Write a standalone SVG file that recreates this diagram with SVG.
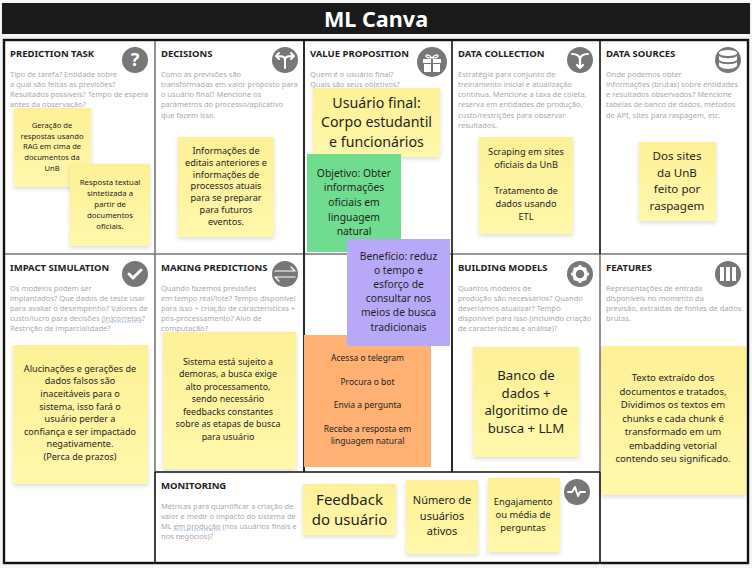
<svg xmlns="http://www.w3.org/2000/svg" width="752" height="568" viewBox="0 0 752 568">
<style>
text{font-family:"Noto Sans","Open Sans","DejaVu Sans",sans-serif}
.h{font-size:9.5px;font-weight:700;fill:#222}
.d{font-size:7.5px;fill:#aaa}
.s{fill:#1f1f1f;text-anchor:middle}
.i{fill:#777}
.g{fill:none;stroke:#fff;stroke-linecap:round;stroke-linejoin:round}
.w{fill:#fff}
.yl{fill:url(#y);filter:url(#sh)}
.u{fill:none;stroke:#6f9fd8;stroke-width:.8;stroke-dasharray:1.5 1}
.l1{stroke:#777;stroke-width:1.6}
.l2{stroke:#111;stroke-width:1.6}
</style>
<defs>
<linearGradient id="y" x1="0" y1="0" x2="0" y2="1"><stop offset="0" stop-color="#fdf196"/><stop offset="1" stop-color="#fff7ab"/></linearGradient>
<filter id="sh" x="-10%" y="-10%" width="120%" height="125%"><feDropShadow dx="0" dy="2" stdDeviation="2" flood-color="#000" flood-opacity=".14"/></filter>
</defs>
<rect width="752" height="568" fill="#f6f6f6"/>
<rect x="2" y="3" width="748" height="31" fill="#1a1a1a"/>
<text x="376" y="27" text-anchor="middle" font-size="21.600" font-weight="700" fill="#fff">ML Canva</text>
<rect x="4" y="40" width="744" height="523" fill="#fff"/>
<g id="connectors">
<path class="l1" d="M4 254H748M155 40V472M304 40V472M452 254V472M600 254V472"/>
<path class="l2" d="M155 472V563M304 40V254M452 40V254M600 40V254M600 472V563M452 254V472M304 254V472M155 472H600"/>
<rect x="4" y="40" width="744" height="523" fill="none" stroke="#111" stroke-width="2.400"/>
</g>
<g id="prediction-task">
<text class="h" x="10" y="57">PREDICTION TASK</text>
<circle class="i" cx="135" cy="60" r="13"/><text x="135" y="66" font-size="18" font-weight="700" fill="#fff" text-anchor="middle">?</text>
<text class="d"><tspan x="10" y="77">Tipo de tarefa? Entidade sobre</tspan><tspan x="10" y="87">a qual são feitas as previsões?</tspan><tspan x="10" y="97">Resultados possíveis? Tempo de espera</tspan><tspan x="10" y="107">antes da observação?</tspan></text>
<rect class="yl" x="14" y="108" width="77" height="79"/>
<text class="s" font-size="7.600"><tspan x="52" y="128">Geração de</tspan><tspan x="52" y="139">respostas usando</tspan><tspan x="52" y="149">RAG em cima de</tspan><tspan x="52" y="160">documentos da</tspan><tspan x="52" y="171">UnB</tspan></text>
<rect class="yl" x="70" y="164" width="80" height="82"/>
<text class="s" font-size="7.800"><tspan x="110" y="185">Resposta textual</tspan><tspan x="110" y="196">sintetizada a</tspan><tspan x="110" y="207">partir de</tspan><tspan x="110" y="218">documentos</tspan><tspan x="110" y="229">oficiais.</tspan></text>
</g>
<g id="decisions">
<text class="h" x="161" y="57">DECISIONS</text>
<circle class="i" cx="285" cy="60" r="13"/><path class="g" stroke-width="2" d="M285 68V60M285 60C285 56 281 56 277 56M285 60C285 56 289 56 293 56M279 53l-3 3 3 3M291 53l3 3-3 3"/>
<text class="d"><tspan x="161" y="77">Como as previsões são</tspan><tspan x="161" y="87">transformadas em valor proposto para</tspan><tspan x="161" y="97">o usuário final? Mencione os</tspan><tspan x="161" y="107">parâmetros do processo/aplicativo</tspan><tspan x="161" y="118">que fazem isso.</tspan></text>
<rect class="yl" x="178" y="137" width="96" height="100"/>
<text class="s" font-size="9.100"><tspan x="226" y="154">Informações de</tspan><tspan x="226" y="166">editais anteriores e</tspan><tspan x="226" y="177.500">informações de</tspan><tspan x="226" y="189">processos atuais</tspan><tspan x="226" y="201">para se preparar</tspan><tspan x="226" y="213">para futuros</tspan><tspan x="226" y="225">eventos.</tspan></text>
</g>
<g id="value-proposition">
<text class="h" x="310" y="57">VALUE PROPOSITION</text>
<circle class="i" cx="432" cy="62" r="15"/><path class="w" d="M423 59h8v4h-8zM433 59h8v4h-8zM424 64h7v8h-7zM433 64h7v8h-7z"/><path class="g" stroke-width="1.300" d="M432 58c-2-3-6-4-6-2s3 2 6 2c2-3 6-4 6-2s-3 2-6 2"/>
<text class="d"><tspan x="310" y="77">Quem é o usuário final?</tspan><tspan x="310" y="87">Quais são seus objetivos?</tspan></text>
<rect class="yl" x="313" y="88" width="127" height="69"/>
<text class="s" font-size="14.200"><tspan x="376.500" y="108">Usuário final:</tspan><tspan x="376.500" y="127">Corpo estudantil</tspan><tspan x="376.500" y="147">e funcionários</tspan></text>
</g>
<g id="objetivo">
<rect x="307" y="154" width="94" height="98" fill="#6fdc8f"/>
<text class="s" font-size="10.300"><tspan x="354" y="177">Objetivo: Obter</tspan><tspan x="354" y="191">informações</tspan><tspan x="354" y="206">oficiais em</tspan><tspan x="354" y="221">linguagem</tspan><tspan x="354" y="235">natural</tspan></text>
</g>
<g id="jornada">
<rect x="304" y="335" width="127" height="132" fill="#ffb072"/>
<text class="s" font-size="8.500"><tspan x="367.500" y="361">Acessa o telegram</tspan><tspan x="367.500" y="385">Procura o bot</tspan><tspan x="367.500" y="408">Envia a pergunta</tspan><tspan x="367.500" y="432">Recebe a resposta em</tspan><tspan x="367.500" y="444">linguagem natural</tspan></text>
</g>
<g id="beneficio">
<rect x="347" y="239" width="103" height="107" fill="#b7a9f8"/>
<text class="s" font-size="10.300"><tspan x="398.500" y="260">Benefício: reduz</tspan><tspan x="398.500" y="274">o tempo e</tspan><tspan x="398.500" y="288">esforço de</tspan><tspan x="398.500" y="302">consultar nos</tspan><tspan x="398.500" y="316">meios de busca</tspan><tspan x="398.500" y="331">tradicionais</tspan></text>
</g>
<g id="data-collection">
<text class="h" x="458" y="57">DATA COLLECTION</text>
<circle class="i" cx="580" cy="60" r="13"/><path class="g" stroke-width="2.200" d="M572 54C578 54 580 56 580 60M588 54C582 54 580 56 580 60M580 60V68M577 65l3 3 3-3"/>
<text class="d"><tspan x="458" y="77">Estratégia para conjunto de</tspan><tspan x="458" y="87">treinamento inicial e atualização</tspan><tspan x="458" y="97">contínua. Mencione a taxa de coleta,</tspan><tspan x="458" y="107">reserva em entidades de produção,</tspan><tspan x="458" y="118">custo/restrições para observar</tspan><tspan x="458" y="128">resultados.</tspan></text>
<rect class="yl" x="479" y="137" width="94" height="97"/>
<text class="s" font-size="9.200"><tspan x="526" y="155">Scraping em sites</tspan><tspan x="526" y="168">oficiais da UnB</tspan><tspan x="526" y="194">Tratamento de</tspan><tspan x="526" y="207">dados usando</tspan><tspan x="526" y="220">ETL</tspan></text>
</g>
<g id="data-sources">
<text class="h" x="606" y="57">DATA SOURCES</text>
<circle class="i" cx="728" cy="60" r="13"/><path class="w" d="M719 53c0-4 18-4 18 0s-18 4-18 0zM719 56c3 3 15 3 18 0v4c-3 3-15 3-18 0zM719 62c3 3 15 3 18 0v4c-3 4-15 4-18 0z"/>
<text class="d"><tspan x="606" y="77">Onde podemos obter</tspan><tspan x="606" y="87">informações (brutas) sobre entidades</tspan><tspan x="606" y="97">e resultados observados? Mencione</tspan><tspan x="606" y="107">tabelas de banco de dados, métodos</tspan><tspan x="606" y="118">de API, sites para raspagem, etc.</tspan></text>
<rect class="yl" x="639" y="142" width="77" height="79"/>
<text class="s" font-size="11.600"><tspan x="677" y="160">Dos sites</tspan><tspan x="677" y="177">da UnB</tspan><tspan x="677" y="193">feito por</tspan><tspan x="677" y="210">raspagem</tspan></text>
</g>
<g id="impact-simulation">
<text class="h" x="10" y="271">IMPACT SIMULATION</text>
<circle class="i" cx="135" cy="274" r="13"/><path class="g" stroke-width="3" d="M129 274l4 4 8-8"/>
<text class="d"><tspan x="10" y="291">Os modelos podem ser</tspan><tspan x="10" y="301">implantados? Que dados de teste usar</tspan><tspan x="10" y="311">para avaliar o desempenho? Valores de</tspan><tspan x="10" y="321">custo/lucro para decisões (in)corretas?</tspan><tspan x="10" y="331">Restrição de imparcialidade?</tspan></text>
<path class="u" d="M102 322h40"/>
<rect class="yl" x="13" y="345" width="135" height="139"/>
<text class="s" font-size="9.100"><tspan x="80" y="372">Alucinações e gerações de</tspan><tspan x="80" y="384">dados falsos são</tspan><tspan x="80" y="397">inaceitáveis para o</tspan><tspan x="80" y="410">sistema, isso fará o</tspan><tspan x="80" y="422">usuário perder a</tspan><tspan x="80" y="435">confiança e ser impactado</tspan><tspan x="80" y="447">negativamente.</tspan><tspan x="80" y="460">(Perca de prazos)</tspan></text>
</g>
<g id="making-predictions">
<text class="h" x="161" y="271">MAKING PREDICTIONS</text>
<circle class="i" cx="285" cy="274" r="13"/><path class="g" stroke-width="1.200" d="M275 271h20l-4-4M295 277h-20l4 4"/>
<text class="d"><tspan x="161" y="291">Quando fazemos previsões</tspan><tspan x="161" y="301">em tempo real/lote? Tempo disponível</tspan><tspan x="161" y="311">para isso + criação de características +</tspan><tspan x="161" y="321">pós-processamento? Alvo de</tspan><tspan x="161" y="331">computação?</tspan></text>
<rect class="yl" x="163" y="332" width="133" height="137"/>
<text class="s" font-size="8.900"><tspan x="228" y="365">Sistema está sujeito a</tspan><tspan x="228" y="377">demoras, a busca exige</tspan><tspan x="228" y="390">alto processamento,</tspan><tspan x="228" y="402">sendo necessário</tspan><tspan x="228" y="415">feedbacks constantes</tspan><tspan x="228" y="427">sobre as etapas de busca</tspan><tspan x="228" y="440">para usuário</tspan></text>
</g>
<g id="building-models">
<text class="h" x="458" y="271">BUILDING MODELS</text>
<circle class="i" cx="580" cy="274" r="13"/><circle cx="580" cy="274" r="6" fill="none" stroke="#fff" stroke-width="3.500"/><path fill="none" stroke="#fff" stroke-width="2.600" d="M580 265v2M580 281v2M571 274h2M587 274h2M574 268l1 1M585 279l1 1M586 268l-1 1M575 279l-1 1"/>
<text class="d"><tspan x="458" y="291">Quantos modelos de</tspan><tspan x="458" y="301">produção são necessários? Quando</tspan><tspan x="458" y="311">deveríamos atualizar? Tempo</tspan><tspan x="458" y="321">disponível para isso (incluindo criação</tspan><tspan x="458" y="331">de características e análise)?</tspan></text>
<rect class="yl" x="473" y="347" width="106" height="110"/>
<text class="s" font-size="13.200"><tspan x="526" y="380">Banco de</tspan><tspan x="526" y="398">dados +</tspan><tspan x="526" y="415">algoritimo de</tspan><tspan x="526" y="433">busca + LLM</tspan></text>
</g>
<g id="features">
<text class="h" x="606" y="271">FEATURES</text>
<circle class="i" cx="728" cy="274" r="13"/><path class="w" d="M720 267h4v14h-4zM726 267h4v14h-4zM732 267h4v14h-4z"/>
<text class="d"><tspan x="606" y="291">Representações de entrada</tspan><tspan x="606" y="301">disponíveis no momento da</tspan><tspan x="606" y="311">previsão, extraídas de fontes de dados</tspan><tspan x="606" y="321">brutas.</tspan></text>
<rect class="yl" x="601" y="346" width="145" height="149"/>
<text class="s" font-size="9.600"><tspan x="673" y="381">Texto extraído dos</tspan><tspan x="673" y="395">documentos e tratados,</tspan><tspan x="673" y="408">Dividimos os textos em</tspan><tspan x="673" y="422">chunks e cada chunk é</tspan><tspan x="673" y="435">transformado em um</tspan><tspan x="673" y="449">embadding vetorial</tspan><tspan x="673" y="462">contendo seu significado.</tspan></text>
</g>
<g id="monitoring">
<text class="h" x="161" y="489">MONITORING</text>
<circle class="i" cx="577" cy="492" r="13"/><path class="g" stroke-width="2" d="M568 492h4l3-5 3 9 2-4h5"/>
<text class="d"><tspan x="161" y="509">Métricas para quantificar a criação de</tspan><tspan x="161" y="519">valor e medir o impacto do sistema de</tspan><tspan x="161" y="529">ML em produção (nos usuários finais e</tspan><tspan x="161" y="539">nos negócios)?</tspan></text>
<path class="u" d="M174 530h47"/>
<rect class="yl" x="303" y="484" width="93" height="51"/>
<text class="s" font-size="15"><tspan x="349.500" y="505">Feedback</tspan><tspan x="349.500" y="525">do usuário</tspan></text>
<rect class="yl" x="406" y="480" width="72" height="74"/>
<text class="s" font-size="11"><tspan x="442" y="504">Número de</tspan><tspan x="442" y="520">usuários</tspan><tspan x="442" y="535">ativos</tspan></text>
<rect class="yl" x="488" y="478" width="72" height="74"/>
<text class="s" font-size="9.400"><tspan x="523" y="505">Engajamento</tspan><tspan x="523" y="518">ou média de</tspan><tspan x="523" y="531">perguntas</tspan></text>
</g>
</svg>
